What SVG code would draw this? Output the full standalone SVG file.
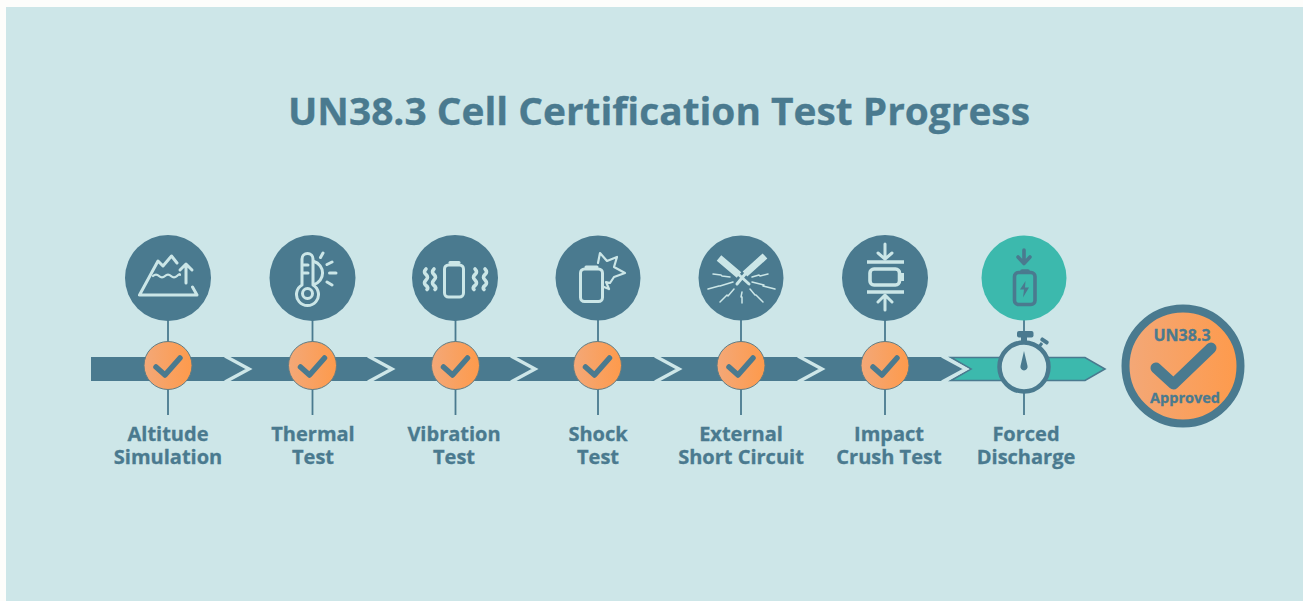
<svg xmlns="http://www.w3.org/2000/svg" width="1303" height="601" viewBox="0 0 1303 601">
<style>
text{font-family:"Open Sans","Noto Sans","Liberation Sans",sans-serif;font-weight:700;fill:#4a7a8f;text-anchor:middle;stroke:#4a7a8f;stroke-width:.3px}
.lbl{font-size:20px}
.disc{fill:#4a7a8f}
.ic{fill:none;stroke:#cbe6e7;stroke-width:3px;stroke-linecap:round;stroke-linejoin:round}
.w2{stroke-width:2.2px}
.w35{stroke-width:3.6px}
.w7{stroke-width:7px;stroke-linecap:butt}
.sp{stroke-width:1.5px}
.bt{stroke-linecap:butt}
.dk{fill:none;stroke:#4a7a8f;stroke-width:3.6px;stroke-linecap:round;stroke-linejoin:round}
.conn{stroke:#4a7a8f;stroke-width:1.8px;fill:none}
.chev{fill:none;stroke:#cde6e8;stroke-width:3.4px}
.orb{fill:url(#og);stroke:#5f7c84;stroke-width:1px}
.chk{fill:none;stroke:#4a7a8f;stroke-width:5.5px;stroke-linecap:round;stroke-linejoin:round}
.big{stroke-width:11px}
</style>
<defs>
<linearGradient id="og" x1="0" x2="1" y1="0" y2="0"><stop offset="0" stop-color="#f3a878"/><stop offset="1" stop-color="#fe9a4b"/></linearGradient>
<g id="mark"><circle class="orb" r="24"/><path class="chk" d="M-12 1.500L-3 9.500L12-7.500"/></g>
</defs>
<rect width="1303" height="601" fill="#fdfdfb"/>
<rect x="6" y="7" width="1297" height="594" fill="#cde6e8"/>
<text id="title" x="659" y="125" font-size="37.500" textLength="742" lengthAdjust="spacingAndGlyphs">UN38.3 Cell Certification Test Progress</text>
<g id="connectors">
<path class="conn" d="M168 320V345M168 388V415M312.500 320V345M312.500 388V415M455.500 320V345M455.500 388V415M598 319V345M598 388V415M741 319V345M741 388V415M885 320V345M885 388V415M1024 319V336M1024 393V415"/>
</g>
<g id="timeline">
<path fill="#4a7a8f" d="M91 357H946L966 369L946 381H91Z"/>
<path fill="#3cb9ad" stroke="#4a7a8f" stroke-width="1.600" d="M951 357.500H1085L1105 369L1085 380.500H951L971 369Z"/>
<path class="chev" d="M225 356L249 369L225 382M368 356L392 369L368 382M511 356L535 369L511 382M655 356L679 369L655 382M798 356L822 369L798 382M942 356L966 369L942 382"/>
</g>
<g id="node-altitude">
<circle class="disc" cx="168" cy="278" r="43"/>
<path class="ic" d="M139.500 295H197L192.500 287M139.500 295L158 261L163 266L171.500 256L177 263"/>
<path class="ic w2" d="M153 276q3-3 6 0t6 0t6 0t6 0t3-1"/>
<path class="ic" d="M186 283V264M180 270L186 264L192 270"/>
<use href="#mark" x="168" y="365.500"/>
<text class="lbl" x="168" y="441">Altitude</text>
<text class="lbl" x="168" y="464">Simulation</text>
</g>
<g id="node-thermal">
<circle class="disc" cx="312.500" cy="278" r="43"/>
<path class="ic" d="M302 285V259a5.500 5.500 0 0 1 11 0V285a11 11 0 1 1-11 0Z"/>
<circle class="ic" cx="307.500" cy="293.500" r="5"/>
<path class="ic" d="M314 261.500a12 12 0 0 1 0 23M303 265H308M303 273H308M323 253L320.500 257.500M332 262L327 264.500M336 273H329.500M332 285L327 282"/>
<use href="#mark" x="312.500" y="365.500"/>
<text class="lbl" x="313" y="441">Thermal</text>
<text class="lbl" x="313" y="464">Test</text>
</g>
<g id="node-vibration">
<circle class="disc" cx="455" cy="278" r="43"/>
<rect class="ic" x="444.500" y="265" width="19" height="32" rx="4"/>
<path class="ic" d="M450 262.500H459"/>
<path class="ic w35" d="M426 269q-3 3 0 5.500t0 5.500t0 5.500t1 4M434 269q-3 3 0 5.500t0 5.500t0 5.500t1 4M475 269q3 3 0 5.500t0 5.500t0 5.500t-1 4M485 269q3 3 0 5.500t0 5.500t0 5.500t-1 4"/>
<use href="#mark" x="455.500" y="365.500"/>
<text class="lbl" x="454" y="441">Vibration</text>
<text class="lbl" x="454" y="464">Test</text>
</g>
<g id="node-shock">
<circle class="disc" cx="598" cy="278" r="42.500"/>
<rect class="ic" x="580.500" y="269" width="22" height="32.500" rx="4"/>
<path class="ic" d="M586 267H597"/>
<path class="ic w2" d="M598 263L600 253L607 261L617 257L614 267L625 273L614 277L610 283L606 282L609 289M604 287L609 289"/>
<use href="#mark" x="597.500" y="365.500"/>
<text class="lbl" x="598" y="441">Shock</text>
<text class="lbl" x="598" y="464">Test</text>
</g>
<g id="node-short-circuit">
<circle class="disc" cx="741" cy="278" r="42.500"/>
<path class="ic w7" d="M719 258L739 275M765 256L745 274"/>
<path class="ic" d="M738 274L749 284M746 273L737 284"/>
<path class="ic sp" d="M713 274L721 275L722 276L730 277M708 289L719 286L720 286L733 282M720 302L727 295L728 296L734 289M742 303L742 297L741 297L742 292M763 302L756 295L755 295L750 289M775 289L763 286L764 285L752 282M768 274L760 276L759 275L752 277"/>
<use href="#mark" x="741" y="365.500"/>
<text class="lbl" x="741" y="441">External</text>
<text class="lbl" x="741" y="464">Short Circuit</text>
</g>
<g id="node-impact">
<circle class="disc" cx="885" cy="278" r="43"/>
<path class="ic w35 bt" d="M867 262H904M867 292H904"/>
<rect class="ic w35" x="870" y="269" width="29.500" height="16" rx="4"/>
<path class="ic bt" d="M902.500 273V281"/>
<path class="ic" d="M885 244V258M878 253L885 259L892 253M885 310V296M878 302L885 295L892 302"/>
<use href="#mark" x="885" y="365.500"/>
<text class="lbl" x="889" y="441">Impact</text>
<text class="lbl" x="889" y="464">Crush Test</text>
</g>
<g id="node-discharge">
<circle fill="#3cb9ad" cx="1024" cy="278" r="42.500"/>
<path class="dk" d="M1024 250V263M1018 257L1024 263.500L1030 257"/>
<rect class="dk" x="1014.500" y="272.500" width="20.500" height="32" rx="4"/>
<path class="dk" d="M1022 271H1028"/>
<path fill="#4a7a8f" d="M1025.500 281L1020 289.500H1024L1023 297.500L1029 287.500H1025Z"/>
<rect x="1017" y="331" width="16.500" height="6.500" rx="2" fill="#4a7a8f"/>
<rect x="1021" y="336" width="6" height="6" fill="#4a7a8f"/>
<rect x="1040" y="339" width="9" height="4" rx="1.500" fill="#4a7a8f" transform="rotate(35 1044.500 341)"/>
<path d="M1042 343L1039 347" stroke="#4a7a8f" stroke-width="3"/>
<circle cx="1024" cy="367" r="24.500" fill="#cde6e8" stroke="#4a7a8f" stroke-width="4.500"/>
<path fill="#4a7a8f" d="M1024 351L1027.500 366A3.600 3.600 0 1 1 1020.500 366Z"/>
<text class="lbl" x="1026" y="441">Forced</text>
<text class="lbl" x="1026" y="464">Discharge</text>
</g>
<g id="node-approved">
<circle cx="1183" cy="366" r="57.500" fill="url(#og)" stroke="#4a7a8f" stroke-width="8"/>
<path class="chk big" d="M1156 368L1173.500 384L1211 348"/>
<text x="1182" y="341" font-size="16">UN38.3</text>
<text x="1185" y="403" font-size="14.500">Approved</text>
</g>
</svg>
